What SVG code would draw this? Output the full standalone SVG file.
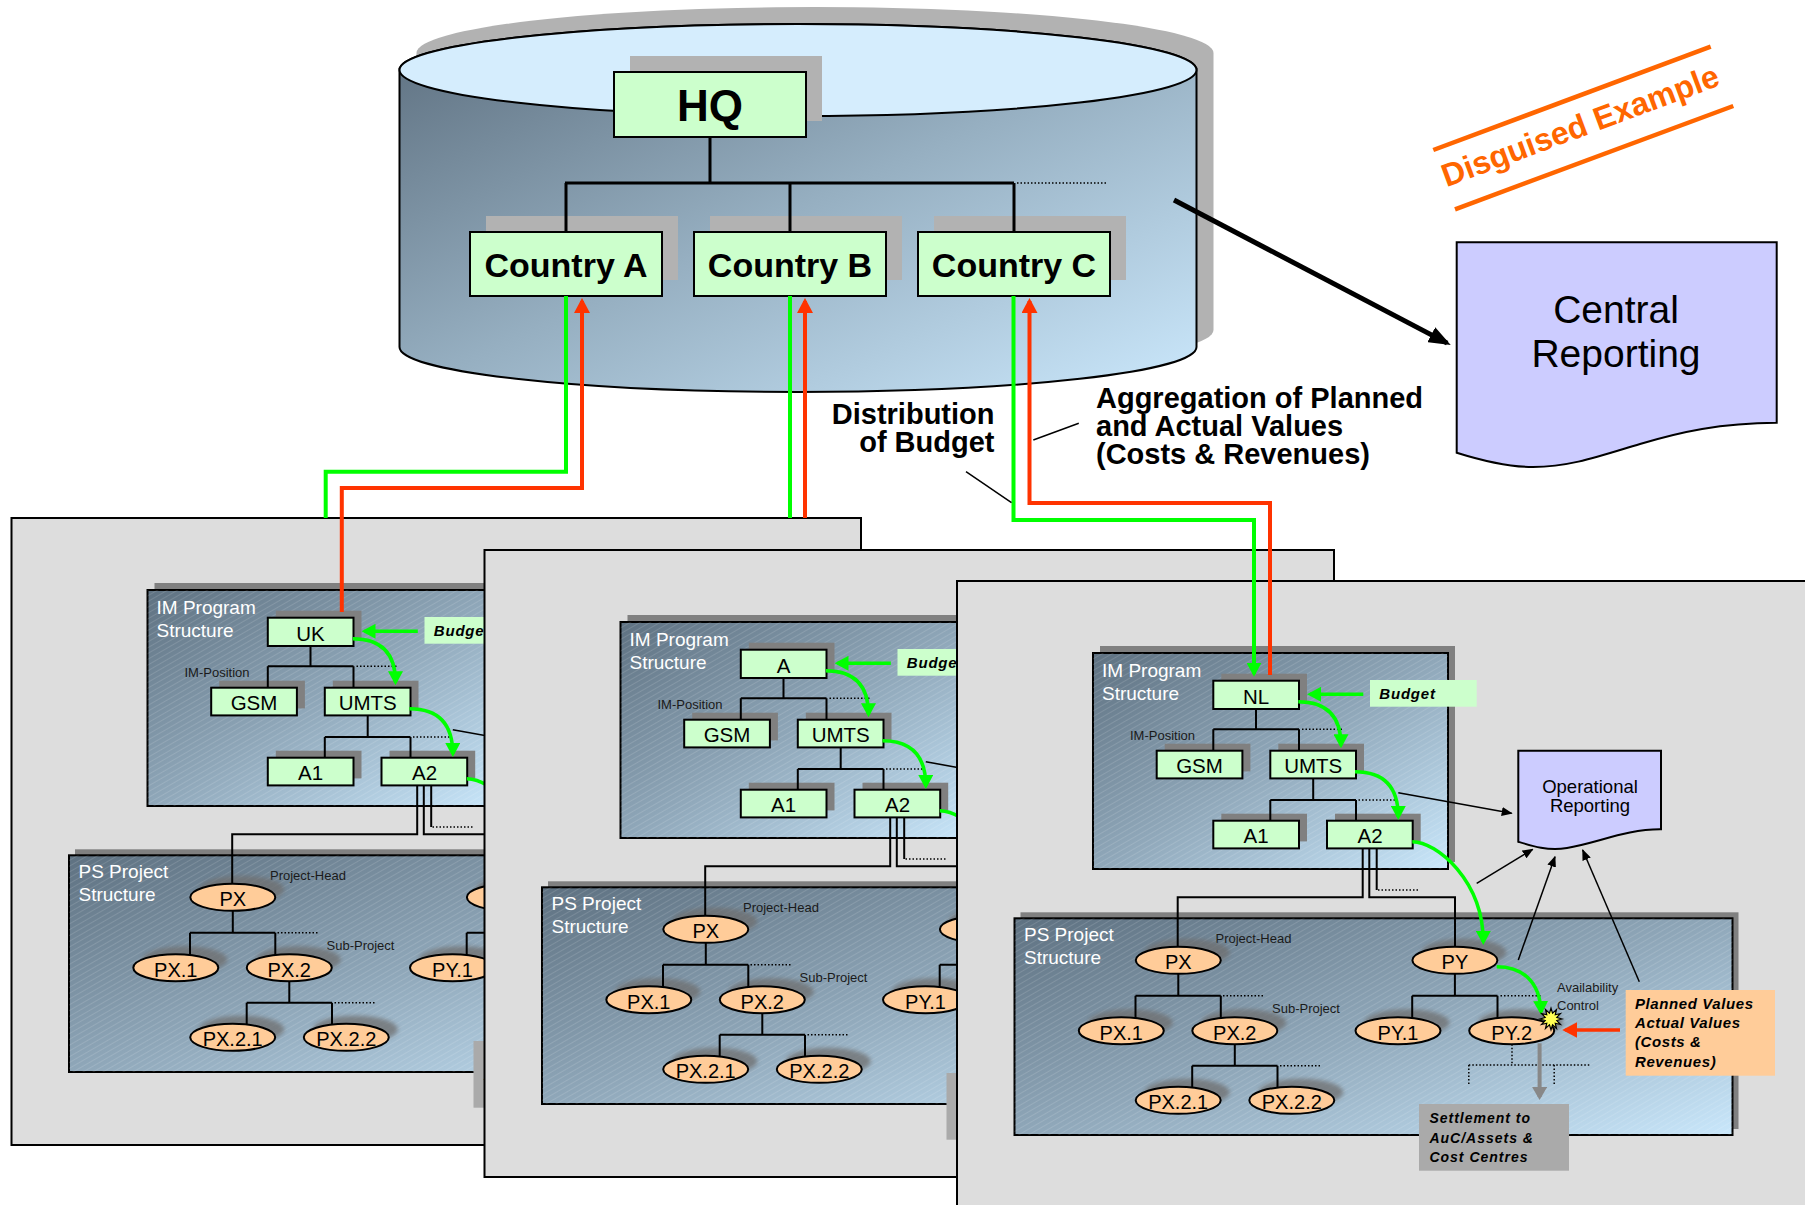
<svg xmlns="http://www.w3.org/2000/svg" xmlns:xlink="http://www.w3.org/1999/xlink" width="1805" height="1205" viewBox="0 0 1805 1205">
<style>
text { font-family: "Liberation Sans", Arial, Helvetica, sans-serif; fill: #000; }
.hq { font-size: 44px; font-weight: bold; text-anchor: middle; }
.ctry { font-size: 34px; font-weight: bold; text-anchor: middle; }
.lbl { font-size: 29px; font-weight: bold; }
.nt { font-size: 20.5px; text-anchor: middle; }
.et { font-size: 20px; text-anchor: middle; }
.hdr { font-size: 19px; fill: #ffffff; }
.sm { font-size: 13px; fill: #1a1a1a; }
.bi { font-weight: bold; font-style: italic; }
.pn { fill: #dddddd; stroke: #000; stroke-width: 2; }
.area { fill: url(#slate); stroke: #000; stroke-width: 2; }
.box { fill: #ccffcc; stroke: #000; stroke-width: 2; }
.shd { fill: #808080; }
.shl { fill: #b2b2b2; }
.ell { fill: #ffcc99; stroke: #000; stroke-width: 2; }
.esh { fill: #6e6e6e; opacity: 0.75; filter: url(#soft); }
.tl { fill: none; stroke: #000; stroke-width: 2; }
.tk { fill: none; stroke: #000; stroke-width: 3; }
.dot { fill: none; stroke: #000; stroke-width: 1.5; stroke-dasharray: 1.5 2; }
.gc { fill: none; stroke: #00ff00; stroke-width: 3.5; marker-end: url(#ah-g); }
.gl { fill: none; stroke: #00ff00; stroke-width: 4; }
.rl { fill: none; stroke: #ff3300; stroke-width: 4; }
.thin { fill: none; stroke: #000; stroke-width: 1.5; }
.rep { fill: #ccccff; stroke: #000; stroke-width: 2; }
</style>
<defs>
  <linearGradient id="cyl" x1="0" y1="0" x2="1" y2="1">
    <stop offset="0" stop-color="#5c6e7e"/>
    <stop offset="0.5" stop-color="#96afc1"/>
    <stop offset="1" stop-color="#cbe8fc"/>
  </linearGradient>
  <linearGradient id="slate" x1="0" y1="0" x2="1" y2="1">
    <stop offset="0" stop-color="#5e7181"/>
    <stop offset="0.5" stop-color="#8fa7b9"/>
    <stop offset="1" stop-color="#c9e7fb"/>
  </linearGradient>
  <pattern id="hatch" width="5" height="5" patternUnits="userSpaceOnUse" patternTransform="rotate(-30)">
    <line x1="0" y1="0.5" x2="5" y2="0.5" stroke="#ffffff" stroke-opacity="0.13" stroke-width="1"/>
  </pattern>
  <filter id="soft" x="-20%" y="-60%" width="140%" height="220%">
    <feGaussianBlur stdDeviation="2"/>
  </filter>
  <marker id="ah-g" markerUnits="userSpaceOnUse" markerWidth="14" markerHeight="15" refX="11" refY="7.5" orient="auto">
    <path d="M0,0 L14,7.5 L0,15 Z" fill="#00ff00"/>
  </marker>
  <marker id="ah-r" markerUnits="userSpaceOnUse" markerWidth="15" markerHeight="16" refX="12" refY="8" orient="auto">
    <path d="M0,0 L15,8 L0,16 Z" fill="#ff3300"/>
  </marker>
  <marker id="ah-k" markerUnits="userSpaceOnUse" markerWidth="11" markerHeight="9" refX="10" refY="4.5" orient="auto">
    <path d="M0,0 L11,4.5 L0,9 Z" fill="#000"/>
  </marker>
  <marker id="ah-gray" markerUnits="userSpaceOnUse" markerWidth="13" markerHeight="15" refX="10" refY="7.5" orient="auto">
    <path d="M0,0 L13,7.5 L0,15 Z" fill="#888888"/>
  </marker>
  <marker id="ah-big" markerUnits="userSpaceOnUse" markerWidth="22" markerHeight="17" refX="18" refY="8.5" orient="auto">
    <path d="M0,0 L22,8.5 L0,17 Z" fill="#000"/>
  </marker>

  <!-- one regional unit: IM program structure above PS project structure -->
  <g id="panel-body">
    <rect class="pn" x="0" y="0" width="849.5" height="627"/>

    <g id="im-structure">
      <rect class="shd" x="143" y="65" width="355" height="216"/>
      <rect class="area" x="136" y="72" width="355" height="216"/>
      <rect x="136" y="72" width="355" height="216" fill="url(#hatch)"/>
      <text class="hdr" x="145" y="96">IM Program</text>
      <text class="hdr" x="145" y="119">Structure</text>
      <text class="sm" x="173" y="159">IM-Position</text>
    </g>

    <g id="ps-structure">
      <rect class="shd" x="63.5" y="331.3" width="718" height="216.7"/>
      <rect class="area" x="57.5" y="337.3" width="718" height="216.7"/>
      <rect x="57.5" y="337.3" width="718" height="216.7" fill="url(#hatch)"/>
      <text class="hdr" x="67" y="360">PS Project</text>
      <text class="hdr" x="67" y="382.5">Structure</text>
      <text class="sm" x="258.5" y="362">Project-Head</text>
      <text class="sm" x="315" y="432">Sub-Project</text>
      <text class="sm" x="600" y="410.7">Availability</text>
      <text class="sm" x="600" y="429">Control</text>
    </g>

    <!-- IM positions -->
    <g id="n-top">
      <rect class="shd" x="264.3" y="92.7" width="85.7" height="28.3"/>
      <rect class="box" x="256.3" y="99.7" width="85.7" height="28.3"/>
    </g>
    <g id="n-gsm">
      <rect class="shd" x="207.7" y="162.7" width="85.7" height="27.7"/>
      <rect class="box" x="199.7" y="169.7" width="85.7" height="27.7"/>
      <text class="nt" x="242.5" y="192">GSM</text>
    </g>
    <g id="n-umts">
      <rect class="shd" x="321.3" y="162.7" width="85.7" height="27.7"/>
      <rect class="box" x="313.3" y="169.7" width="85.7" height="27.7"/>
      <text class="nt" x="356.2" y="192">UMTS</text>
    </g>
    <g id="n-a1">
      <rect class="shd" x="264.3" y="232.7" width="85.7" height="27.7"/>
      <rect class="box" x="256.3" y="239.7" width="85.7" height="27.7"/>
      <text class="nt" x="299" y="262.3">A1</text>
    </g>
    <g id="n-a2">
      <rect class="shd" x="378" y="232.7" width="85.7" height="27.7"/>
      <rect class="box" x="370" y="239.7" width="85.7" height="27.7"/>
      <text class="nt" x="413" y="262.3">A2</text>
    </g>
    <g id="n-budget">
      <rect x="413" y="99" width="106.7" height="26.7" fill="#ccffcc"/>
      <text class="bi" x="422.3" y="118.3" font-size="15" letter-spacing="0.8">Budget</text>
    </g>

    <!-- PS projects -->
    <g id="n-px">
      <ellipse class="esh" cx="230.3" cy="371.3" rx="42.5" ry="13.5"/>
      <ellipse class="ell" cx="221.3" cy="379.3" rx="42.5" ry="13.5"/>
      <text class="et" x="221.3" y="388.3">PX</text>
    </g>
    <g id="n-px1">
      <ellipse class="esh" cx="173.3" cy="441.7" rx="42.5" ry="13.5"/>
      <ellipse class="ell" cx="164.3" cy="449.7" rx="42.5" ry="13.5"/>
      <text class="et" x="164.3" y="458.7">PX.1</text>
    </g>
    <g id="n-px2">
      <ellipse class="esh" cx="286.8" cy="441.7" rx="42.5" ry="13.5"/>
      <ellipse class="ell" cx="277.8" cy="449.7" rx="42.5" ry="13.5"/>
      <text class="et" x="277.8" y="458.7">PX.2</text>
    </g>
    <g id="n-px21">
      <ellipse class="esh" cx="230.2" cy="511.3" rx="42.5" ry="13.5"/>
      <ellipse class="ell" cx="221.2" cy="519.3" rx="42.5" ry="13.5"/>
      <text class="et" x="221.2" y="528.3">PX.2.1</text>
    </g>
    <g id="n-px22">
      <ellipse class="esh" cx="343.8" cy="511.3" rx="42.5" ry="13.5"/>
      <ellipse class="ell" cx="334.8" cy="519.3" rx="42.5" ry="13.5"/>
      <text class="et" x="334.8" y="528.3">PX.2.2</text>
    </g>
    <g id="n-py">
      <ellipse class="esh" cx="506.9" cy="371.3" rx="42.5" ry="13.5"/>
      <ellipse class="ell" cx="497.9" cy="379.3" rx="42.5" ry="13.5"/>
      <text class="et" x="497.9" y="388.3">PY</text>
    </g>
    <g id="n-py1">
      <ellipse class="esh" cx="450" cy="441.7" rx="42.5" ry="13.5"/>
      <ellipse class="ell" cx="441" cy="449.7" rx="42.5" ry="13.5"/>
      <text class="et" x="441" y="458.7">PY.1</text>
    </g>
    <g id="n-py2">
      <ellipse class="esh" cx="563.7" cy="441.7" rx="42.5" ry="13.5"/>
      <ellipse class="ell" cx="554.7" cy="449.7" rx="42.5" ry="13.5"/>
      <text class="et" x="554.7" y="458.7">PY.2</text>
    </g>

    <g id="n-op-reporting">
      <path class="rep" d="M561.3,169.7 H704 V248.3 C670,248 640,262 610,267 C590,270 575,265 561.3,260.7 Z" stroke-width="1.5"/>
      <text x="633" y="212.3" font-size="18.5" text-anchor="middle">Operational</text>
      <text x="633" y="230.7" font-size="18.5" text-anchor="middle">Reporting</text>
    </g>
    <g id="n-planned-values">
      <rect x="668.7" y="409" width="149.3" height="85.7" fill="#ffcc99"/>
      <text class="bi" x="678" y="428.3" font-size="15" letter-spacing="0.6">Planned Values</text>
      <text class="bi" x="678" y="447.3" font-size="15" letter-spacing="0.6">Actual Values</text>
      <text class="bi" x="678" y="466.3" font-size="15" letter-spacing="0.6">(Costs &amp;</text>
      <text class="bi" x="678" y="486.3" font-size="15" letter-spacing="0.6">Revenues)</text>
    </g>
    <g id="n-settlement">
      <rect x="462" y="523" width="150" height="66.7" fill="#aaaaaa"/>
      <text class="bi" x="472.4" y="541.7" font-size="14" letter-spacing="1">Settlement to</text>
      <text class="bi" x="472.4" y="561.7" font-size="14" letter-spacing="1">AuC/Assets &amp;</text>
      <text class="bi" x="472.4" y="580.7" font-size="14" letter-spacing="1">Cost Centres</text>
    </g>

    <!-- hierarchy lines inside the unit -->
    <g id="unit-tree">
      <path class="tl" d="M299,128 V148.3 M256.3,148.3 H342 M256.3,148.3 V169.7 M342,148.3 V169.7"/>
      <path class="dot" d="M345,148.3 H385"/>
      <path class="tl" d="M356.2,197.4 V219 M313.3,219 H399 M313.3,219 V239.7 M399,219 V239.7"/>
      <path class="dot" d="M401.5,219 H440"/>
      <path class="tl" d="M405.7,267.4 V316.3 H220.7 V365.8 M412.3,267.4 V316.3 H498 V365.8 M419.7,267.4 V309"/>
      <path class="dot" d="M421,309 H463"/>
      <path class="tl" d="M221.3,392.8 V414.7 M178.5,414.7 H263.8 M178.5,414.7 V437 M263.8,414.7 V437"/>
      <path class="dot" d="M266,414.7 H307"/>
      <path class="tl" d="M277.8,463.2 V484.7 M235.2,484.7 H320.5 M235.2,484.7 V506.6 M320.5,484.7 V506.6"/>
      <path class="dot" d="M323,484.7 H364"/>
      <path class="tl" d="M497.9,392.8 V414.7 M455.2,414.7 H540.5 M455.2,414.7 V437 M540.5,414.7 V437"/>
      <path class="dot" d="M543.5,414.7 H584"/>
      <path class="dot" d="M555,463.2 V484 M511.8,484 H632.4 M511.8,484 V504 M597.2,484 V504"/>
    </g>

    <!-- budget flow, value flow and reporting links -->
    <g id="unit-flows">
      <path class="gc" d="M406.3,113.3 H353"/>
      <path class="gc" d="M341.3,120.7 Q384,120.7 384,164.3"/>
      <path class="gc" d="M398,190.7 Q441.3,190.7 441.3,236"/>
      <path class="gc" d="M455.3,260.7 C480,260.7 526.3,300 526.3,361"/>
      <path class="gc" d="M539.7,385.7 C565,385.7 583,400 584,431"/>
      <path fill="none" stroke="#ff3300" stroke-width="3.5" marker-end="url(#ah-r)" d="M663,449 H608.3"/>
      <path fill="none" stroke="#888888" stroke-width="4" marker-end="url(#ah-gray)" d="M582.6,462.3 V516"/>
      <path class="thin" marker-end="url(#ah-k)" d="M441.3,211.7 L554.7,232.3"/>
      <path class="thin" marker-end="url(#ah-k)" d="M519.7,302.3 L575.7,268.3"/>
      <path class="thin" marker-end="url(#ah-k)" d="M561.3,379 L598,275.7"/>
      <path class="thin" marker-end="url(#ah-k)" d="M682.3,400.7 L625.7,269"/>
      <polygon transform="translate(594,438)" fill="#ffff55" stroke="#000" stroke-width="1.2" points="11,0 5.8,1.55 9.53,5.5 4.24,4.24 5.5,9.53 1.55,5.8 0,11 -1.55,5.8 -5.5,9.53 -4.24,4.24 -9.53,5.5 -5.8,1.55 -11,0 -5.8,-1.55 -9.53,-5.5 -4.24,-4.24 -5.5,-9.53 -1.55,-5.8 0,-11 1.55,-5.8 5.5,-9.53 4.24,-4.24 9.53,-5.5 5.8,-1.55"/>
    </g>
  </g>
</defs>

<rect x="0" y="0" width="1805" height="1205" fill="#ffffff"/>

<!-- headquarters database -->
<g id="hq-database">
  <path fill="#b2b2b2" d="M416.5,53 V330 A398.5,45 0 0 0 1213.5,330 V53 A398.5,46 0 0 0 416.5,53 Z"/>
  <path fill="url(#cyl)" stroke="#000" stroke-width="2" d="M399.5,70 V347 A398.5,45 0 0 0 1196.5,347 V70 A398.5,46 0 0 0 399.5,70 Z"/>
  <ellipse cx="798" cy="70" rx="398.5" ry="46" fill="#d5edfd" stroke="#000" stroke-width="2"/>
</g>

<g id="node-hq">
  <rect class="shl" x="630" y="56" width="192" height="65"/>
  <rect class="box" x="614" y="72" width="192" height="65"/>
  <text class="hq" x="710" y="120.7">HQ</text>
</g>
<g id="node-country-a">
  <rect class="shl" x="486" y="216" width="192" height="64"/>
  <rect class="box" x="470" y="232" width="192" height="64"/>
  <text class="ctry" x="566" y="276.7">Country A</text>
</g>
<g id="node-country-b">
  <rect class="shl" x="710" y="216" width="192" height="64"/>
  <rect class="box" x="694" y="232" width="192" height="64"/>
  <text class="ctry" x="790" y="276.7">Country B</text>
</g>
<g id="node-country-c">
  <rect class="shl" x="934" y="216" width="192" height="64"/>
  <rect class="box" x="918" y="232" width="192" height="64"/>
  <text class="ctry" x="1014" y="276.7">Country C</text>
</g>

<g id="node-central-reporting">
  <path class="rep" d="M1456.7,242.3 H1776.7 V422.7 C1720,423 1680,432 1640,444 C1600,456 1570,467 1533,467 C1510,467 1480,460 1456.7,452.7 Z"/>
  <text x="1616" y="323.3" font-size="39" text-anchor="middle">Central</text>
  <text x="1616" y="366.7" font-size="39" text-anchor="middle">Reporting</text>
</g>

<g id="label-disguised">
  <line x1="1433.3" y1="150" x2="1710.7" y2="46.7" stroke="#ff6600" stroke-width="4.5"/>
  <line x1="1455" y1="209.3" x2="1733.3" y2="106" stroke="#ff6600" stroke-width="4.5"/>
  <text x="1584" y="136" transform="rotate(-20.4 1584 136)" text-anchor="middle" font-size="32" font-weight="bold" style="fill:#ff6600">Disguised Example</text>
</g>

<g id="label-distribution">
  <text class="lbl" x="994.5" y="423.5" text-anchor="end">Distribution</text>
  <text class="lbl" x="994.5" y="452" text-anchor="end">of Budget</text>
</g>
<g id="label-aggregation">
  <text class="lbl" x="1096" y="408">Aggregation of Planned</text>
  <text class="lbl" x="1096" y="436">and Actual Values</text>
  <text class="lbl" x="1096" y="464">(Costs &amp; Revenues)</text>
</g>

<!-- country units, each overlapping the previous one -->
<g id="panel-uk" transform="translate(11.5,518)">
  <use xlink:href="#panel-body" href="#panel-body"/>
  <text class="nt" x="299" y="123">UK</text>
</g>
<g id="panel-a" transform="translate(484.5,550)">
  <use xlink:href="#panel-body" href="#panel-body"/>
  <text class="nt" x="299" y="123">A</text>
</g>
<g id="panel-nl" transform="translate(957,581)">
  <use xlink:href="#panel-body" href="#panel-body"/>
  <text class="nt" x="299" y="123">NL</text>
</g>

<g id="connectors">
  <!-- HQ hierarchy -->
  <path class="tk" d="M710,137 V183 M565,183 H1014"/>
  <path class="tk" stroke-width="2.5" d="M566,183 V232 M790,183 V232 M1014,183 V232"/>
  <path class="dot" d="M1017,183 H1107"/>

  <!-- budget distribution (green) and value aggregation (red) -->
  <path class="gl" d="M566,296 V471.7 H325.7 V518"/>
  <path class="rl" marker-end="url(#ah-r)" d="M341.8,612 V488 H582 V301"/>
  <path class="gl" d="M790,296 V518"/>
  <path class="rl" marker-end="url(#ah-r)" d="M805,518 V301"/>
  <path class="gl" marker-end="url(#ah-g)" d="M1013.5,296 V520 H1254 V673.7"/>
  <path class="rl" marker-end="url(#ah-r)" d="M1270,675 V503 H1029.5 V301"/>

  <!-- label leaders -->
  <path class="thin" d="M966,471.7 L1011.5,502.7"/>
  <path class="thin" d="M1078.8,423.3 L1033.3,440"/>

  <!-- to central reporting -->
  <path fill="none" stroke="#000" stroke-width="5" marker-end="url(#ah-big)" d="M1174,200 L1447.2,343.1"/>
</g>
</svg>
